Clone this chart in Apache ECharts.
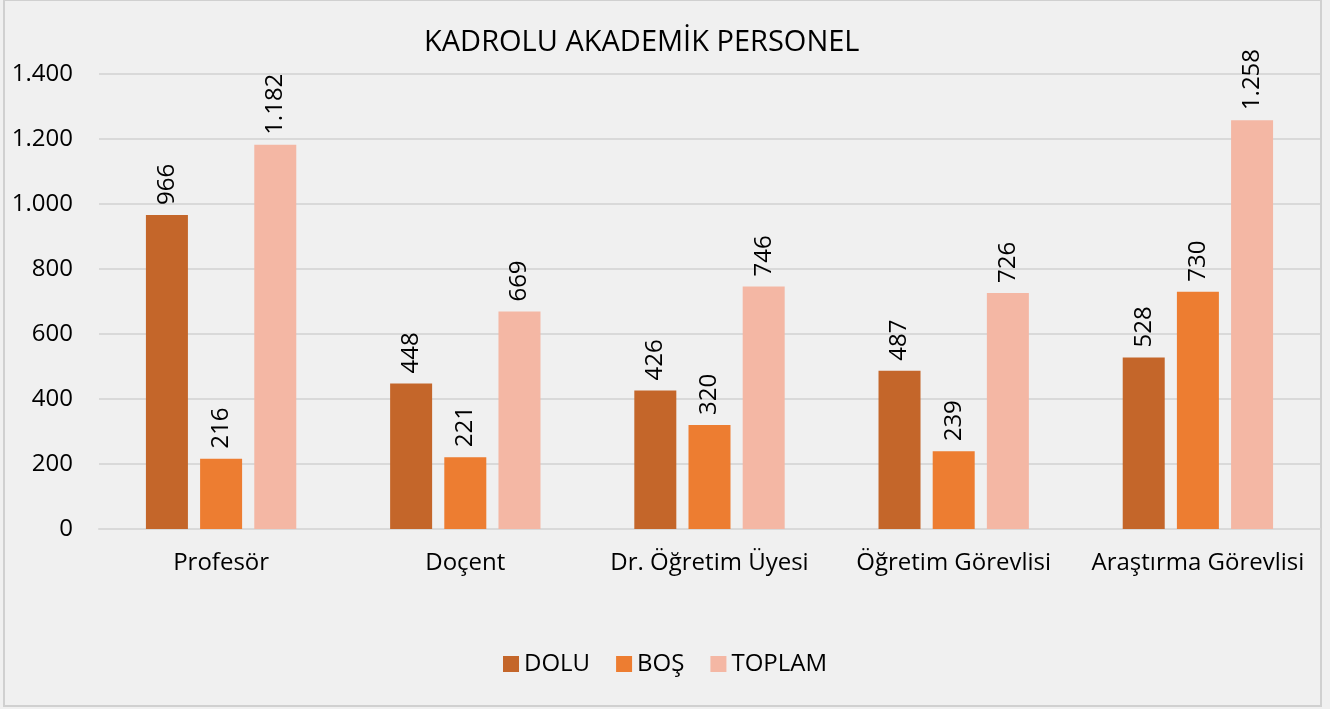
<!DOCTYPE html>
<html>
<head>
<meta charset="utf-8">
<script src="https://cdn.jsdelivr.net/npm/echarts@6/dist/echarts.min.js"></script>
<style>
  html, body { margin: 0; padding: 0; background: #f0f0f0; }
  #chart { width: 1330px; height: 709px; }
</style>
</head>
<body>
<div id="chart"></div>
<script>
const categories = ['Profesör', 'Doçent', 'Dr. Öğretim Üyesi', 'Öğretim Görevlisi', 'Araştırma Görevlisi'];
const dolu = [966, 448, 426, 487, 528];
const bos = [216, 221, 320, 239, 730];
const toplam = [1182, 669, 746, 726, 1258];
const legendNames = ['DOLU', 'BOŞ', 'TOPLAM'];

// 1.182 gibi nokta ile binlik ayirici
function trNum(v) {
  return String(v).replace(/\B(?=(\d{3})+(?!\d))/g, '.');
}

const font = 'Open Sans, Liberation Sans, sans-serif';
const myChart = echarts.init(document.getElementById('chart'));

const barLabel = {
  show: true,
  position: 'top',
  rotate: 90,
  align: 'left',
  verticalAlign: 'middle',
  distance: 10,
  color: '#000',
  fontSize: 24,
  fontFamily: font,
  formatter: p => trNum(p.value)
};

function makeSeries(name, data, color) {
  return {
    name: name,
    type: 'bar',
    data: data,
    barWidth: 42,
    barGap: '29%',
    itemStyle: { color: color },
    label: barLabel
  };
}

const option = {
  backgroundColor: '#f0f0f0',
  animation: false,
  title: {
    text: 'KADROLU AKADEMİK PERSONEL',
    left: 419,
    top: 23,
    textStyle: { fontSize: 29, fontWeight: 'normal', color: '#000', fontFamily: font }
  },
  legend: {
    data: legendNames,
    bottom: 28,
    left: 'center',
    itemWidth: 16,
    itemHeight: 16,
    itemGap: 26,
    icon: 'rect',
    textStyle: { fontSize: 24, color: '#000', fontFamily: font }
  },
  grid: {
    left: 99,
    right: 10,
    top: 74,
    bottom: 180
  },
  xAxis: {
    type: 'category',
    data: categories,
    axisTick: { show: false },
    axisLine: { lineStyle: { color: '#d9d9d9', width: 2 } },
    axisLabel: { interval: 0, fontSize: 24, color: '#000', fontFamily: font, margin: 22 }
  },
  yAxis: {
    type: 'value',
    min: 0,
    max: 1400,
    interval: 200,
    axisLine: { show: false },
    axisTick: { show: false },
    splitLine: { lineStyle: { color: '#d9d9d9', width: 2 } },
    axisLabel: {
      fontSize: 24, color: '#000', fontFamily: font, margin: 26,
      formatter: v => trNum(v)
    }
  },
  graphic: [{
    type: 'rect',
    shape: { x: 4, y: 0, width: 1317, height: 706 },
    style: { fill: 'none', stroke: '#d0d0d0', lineWidth: 2 },
    silent: true
  }],
  series: [
    makeSeries(legendNames[0], dolu, '#c4662a'),
    makeSeries(legendNames[1], bos, '#ed7d31'),
    makeSeries(legendNames[2], toplam, '#f4b7a4')
  ]
};
myChart.setOption(option);
</script>
</body>
</html>
